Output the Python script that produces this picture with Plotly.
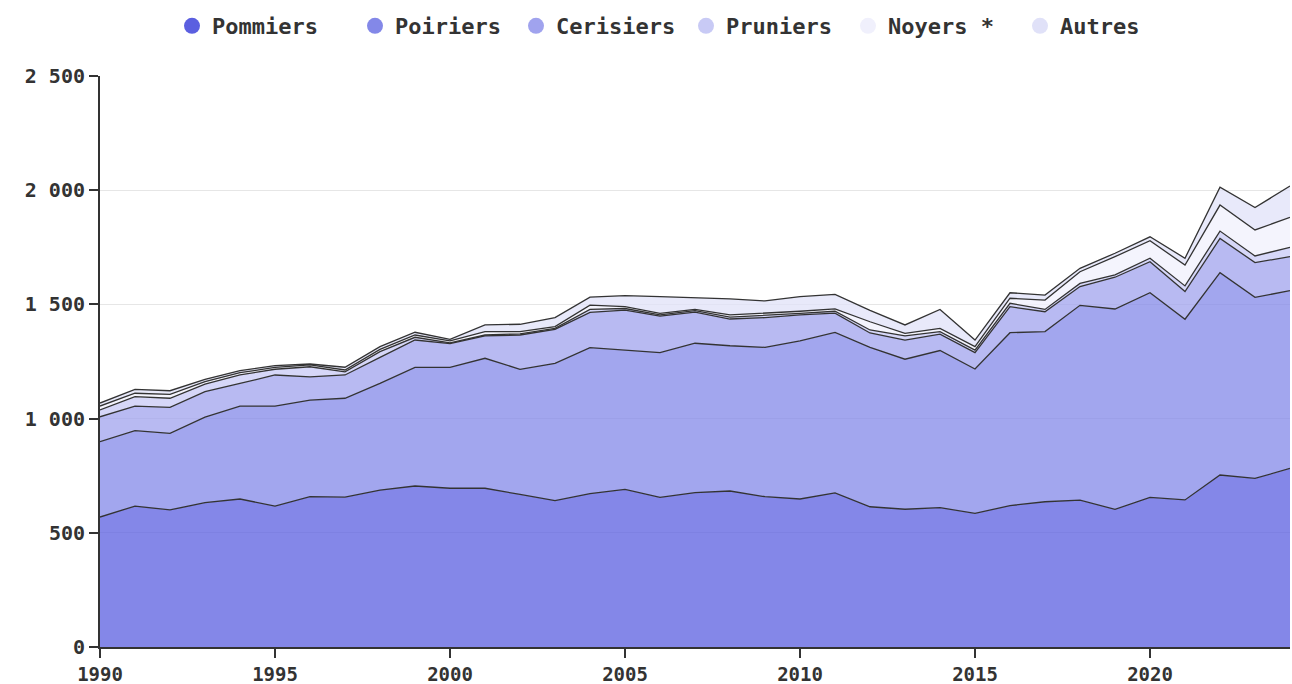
import plotly.graph_objects as go

years = list(range(1990, 2025))

pommiers = [569, 617, 600, 632, 648, 617, 658, 656, 687, 705, 695, 695, 668, 641, 672, 690, 655, 676, 683, 658,
            648, 675, 614, 603, 610, 585, 619, 636, 643, 603, 655, 644, 753, 738, 782]
poiriers = [330, 330, 335, 374, 407, 438, 423, 433, 467, 519, 529, 569, 548, 601, 639, 610, 634, 654, 636, 654,
            692, 702, 698, 657, 688, 632, 757, 745, 853, 877, 896, 791, 886, 793, 778]
cerisiers = [109, 108, 114, 112, 99, 136, 102, 102, 114, 120, 104, 98, 150, 149, 154, 175, 160, 136, 117, 130,
             114, 85, 63, 84, 72, 72, 114, 87, 82, 139, 136, 121, 150, 152, 149]
pruniers = [30, 41, 40, 33, 37, 25, 44, 14, 25, 12, 4, 4, 5, 4, 13, 7, 5, 7, 8, 9,
            7, 8, 13, 18, 11, 11, 15, 10, 14, 10, 15, 25, 32, 29, 41]
noyers = [17, 15, 17, 11, 10, 8, 8, 8, 10, 10, 8, 15, 10, 8, 19, 8, 7, 5, 10, 10,
          9, 10, 36, 11, 14, 15, 22, 41, 51, 80, 77, 91, 114, 114, 131]
autres = [13, 17, 16, 10, 9, 8, 4, 12, 12, 12, 7, 29, 32, 39, 35, 48, 73, 52, 70, 54,
          64, 64, 50, 37, 83, 29, 24, 22, 15, 15, 17, 30, 78, 98, 137]

names = ["Pommiers", "Poiriers", "Cerisiers", "Pruniers", "Noyers *", "Autres"]
series = [pommiers, poiriers, cerisiers, pruniers, noyers, autres]
colors = [(91, 95, 224), (131, 136, 232), (160, 163, 238), (200, 202, 245), (240, 240, 252), (224, 225, 248)]

x_ticks = [1990, 1995, 2000, 2005, 2010, 2015, 2020]
y_ticks = [0, 500, 1000, 1500, 2000, 2500]

FONT = "DejaVu Sans Mono"
W, H = 1292, 684
legend_left_px = [172, 355, 516, 686, 848, 1020]

fig = go.Figure()
for name, vals, c in zip(names, series, colors):
    fig.add_trace(go.Scatter(
        x=years, y=vals, name=name, stackgroup="one", mode="lines",
        line=dict(color="#333333", width=1.3),
        fillcolor="rgba(%d,%d,%d,0.75)" % c,
        showlegend=False, hoverinfo="x+y+name"))

legends = {}
for i, (name, c) in enumerate(zip(names, colors)):
    key = "legend" if i == 0 else "legend%d" % (i + 1)
    fig.add_trace(go.Scatter(
        x=[None], y=[None], name=name, mode="markers",
        marker=dict(color="rgb(%d,%d,%d)" % c, size=16, symbol="circle"),
        showlegend=True, legend=key))
    legends[key] = dict(orientation="h", xref="container", yref="container",
                        x=legend_left_px[i] / W, xanchor="left", y=1 - 26 / H, yanchor="middle",
                        bgcolor="rgba(0,0,0,0)",
                        font=dict(family=FONT, size=22, color="#333333", weight="bold"),
                        itemsizing="trace")

fig.update_layout(
    width=W, height=H,
    margin=dict(l=100, r=2, t=76, b=37),
    paper_bgcolor="white", plot_bgcolor="white",
    separators=", ",
    font=dict(family=FONT, size=20, color="#333333"),
    xaxis=dict(range=[1990, 2024], tickvals=x_ticks, showgrid=False, zeroline=False,
               showline=True, linecolor="#333333", linewidth=2, automargin=False,
               ticks="outside", ticklen=9, tickwidth=2, tickcolor="#333333",
               tickfont=dict(family=FONT, size=19, color="#333333", weight="bold")),
    yaxis=dict(range=[0, 2500], tickvals=y_ticks, tickformat=",d", showgrid=True,
               gridcolor="#e6e6e6", gridwidth=1, zeroline=False, automargin=False,
               showline=True, linecolor="#333333", linewidth=2,
               ticks="outside", ticklen=9, tickwidth=2, tickcolor="#333333",
               tickfont=dict(family=FONT, size=20, color="#333333", weight="bold")),
    **legends,
)
fig.write_html("out.html", config={"displayModeBar": False},
               post_script="document.body.style.margin='0';document.body.style.overflow='hidden';")
